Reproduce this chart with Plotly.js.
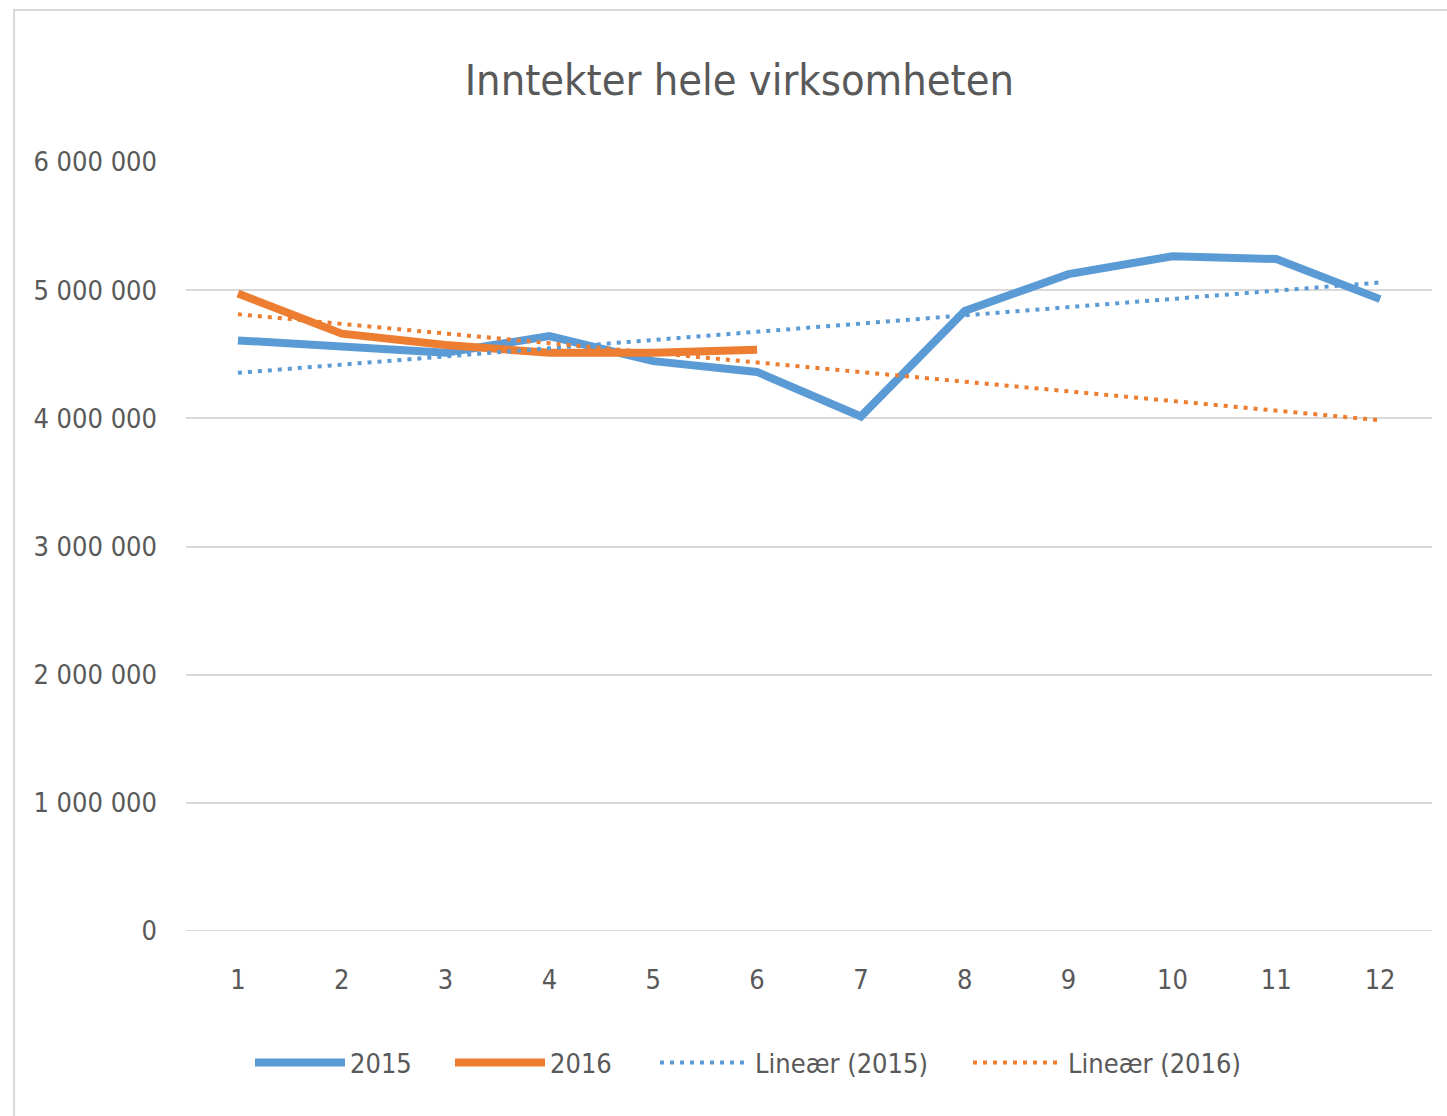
<!DOCTYPE html>
<html><head><meta charset="utf-8">
<script src="https://cdn.plot.ly/plotly-3.0.1.min.js"></script>
<style>html,body{margin:0;padding:0;background:#fff}#chart{width:1447px;height:1116px}</style>
</head><body><div id="chart"></div>
<script>
const months = [1,2,3,4,5,6,7,8,9,10,11,12];
const values2015 = [4608000,4559000,4512000,4642000,4446000,4362000,4015000,4838000,5125000,5265000,5243000,4930000];
const months2016 = [1,2,3,4,5,6];
const values2016 = [4974000,4661000,4572000,4512000,4512000,4535000];
const trendX = [1,12];
const trend2015 = [4355000,5060000];
const trend2016 = [4812000,3985000];
const yTicks = [0,1000000,2000000,3000000,4000000,5000000,6000000];
const yTickLabels = ['0','1 000 000','2 000 000','3 000 000','4 000 000','5 000 000','6 000 000'];
const titleText = 'Inntekter hele virksomheten';

const FONT = '"DejaVu Sans Condensed", "DejaVu Sans", sans-serif';
const blue = '#5b9bd5', orange = '#ed7d31', txt = '#595959';

const traces = [
  {x: months, y: values2015, name: '2015', mode: 'lines', line: {color: blue, width: 8}, legend: 'legend'},
  {x: months2016, y: values2016, name: '2016', mode: 'lines', line: {color: orange, width: 8}, legend: 'legend2'},
  {x: trendX, y: trend2015, name: 'Lineær (2015)', mode: 'lines', line: {color: blue, width: 4, dash: '4px,6px'}, legend: 'legend3'},
  {x: trendX, y: trend2016, name: 'Lineær (2016)', mode: 'lines', line: {color: orange, width: 4, dash: '4px,6px'}, legend: 'legend4'}
];

function leg(px) {
  return {orientation: 'h', x: (px - 186) / 1246, xanchor: 'left', y: -0.1717, yanchor: 'middle',
          font: {size: 27, color: txt, family: FONT}, itemwidth: 90, bgcolor: 'rgba(0,0,0,0)', borderwidth: 0};
}

const layout = {
  width: 1447, height: 1116,
  margin: {l: 186, r: 15, t: 162, b: 185, pad: 0},
  paper_bgcolor: '#fff', plot_bgcolor: '#fff',
  font: {family: FONT, color: txt, size: 27},
  title: {text: titleText, x: 0.511, xref: 'container', xanchor: 'center', y: 0.928, yref: 'container', yanchor: 'middle',
          font: {family: FONT, size: 43, color: txt}},
  xaxis: {range: [0.5, 12.5], tickvals: months, ticktext: months.map(String), showgrid: false, zeroline: false,
          showline: false, ticks: '', ticklen: 0, ticklabelstandoff: 30, tickfont: {size: 27, color: txt}, fixedrange: true},
  yaxis: {range: [0, 6000000], tickvals: yTicks, ticktext: yTickLabels, showgrid: true, gridcolor: '#d9d9d9', gridwidth: 2,
          zeroline: false, showline: false, ticks: '', ticklabelstandoff: 28, tickfont: {size: 27, color: txt}, fixedrange: true},
  showlegend: true,
  legend: leg(250), legend2: leg(450), legend3: leg(655), legend4: leg(968),
  shapes: [
    {type: 'line', xref: 'paper', yref: 'y', x0: 0, x1: 1, y0: 0, y1: 0, line: {color: '#d9d9d9', width: 2}, layer: 'below'},
    {type: 'rect', xref: 'paper', yref: 'paper', x0: -0.138, x1: 1.3, y0: -0.5, y1: 1.1977, line: {color: '#d9d9d9', width: 2}, fillcolor: 'rgba(0,0,0,0)'}
  ]
};
Plotly.newPlot('chart', traces, layout, {displayModeBar: false, staticPlot: true});
</script></body></html>
